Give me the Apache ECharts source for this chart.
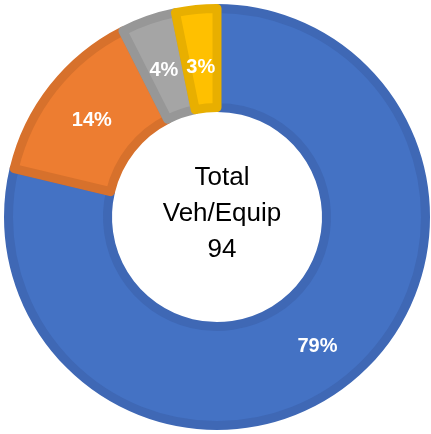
<!DOCTYPE html>
<html>
<head>
<meta charset="utf-8">
<script src="https://cdn.jsdelivr.net/npm/echarts@6/dist/echarts.min.js"></script>
<style>
html,body{margin:0;padding:0;background:#fff;}
#main{width:431px;height:434px;}
</style>
</head>
<body>
<div id="main"></div>
<script>
var categories = ['Vehicles A', 'Vehicles B', 'Vehicles C', 'Vehicles D'];
var counts = [74, 13, 4, 3];
var fills = ['#4472C4', '#ED7D31', '#A5A5A5', '#FFC000'];
var edges = ['#3F68B5', '#D7712C', '#979797', '#E8AF00'];
var total = 94;

var myChart = echarts.init(document.getElementById('main'));
// small slices get their labels pushed a little toward the hole, like the original
var labelShift = [[0, 2], [2, 4], [0, 7], [0, 12]];
var pieData = [];
for (var i = 0; i < counts.length; i++) {
  pieData.push({
    name: categories[i],
    value: counts[i],
    itemStyle: { color: fills[i], borderColor: edges[i], borderWidth: 9 },
    label: { offset: labelShift[i] }
  });
}
var option = {
  animation: false,
  title: {
    text: 'Total\nVeh/Equip\n' + total,
    left: 217,
    top: 155,
    textAlign: 'center',
    textStyle: {
      fontFamily: 'Liberation Sans',
      fontSize: 26,
      fontWeight: 'normal',
      color: '#000',
      lineHeight: 36,
      align: 'center'
    }
  },
  series: [{
    type: 'pie',
    center: [217, 217],
    radius: [109.5, 208.5],
    startAngle: 90,
    clockwise: true,
    avoidLabelOverlap: false,
    label: {
      show: true,
      position: 'inside',
      color: '#fff',
      fontWeight: 'bold',
      fontSize: 20,
      fontFamily: 'Liberation Sans',
      formatter: function (p) { return Math.round(p.value / total * 100) + '%'; }
    },
    labelLine: { show: false },
    data: pieData
  }]
};
myChart.setOption(option);
</script>
</body>
</html>
